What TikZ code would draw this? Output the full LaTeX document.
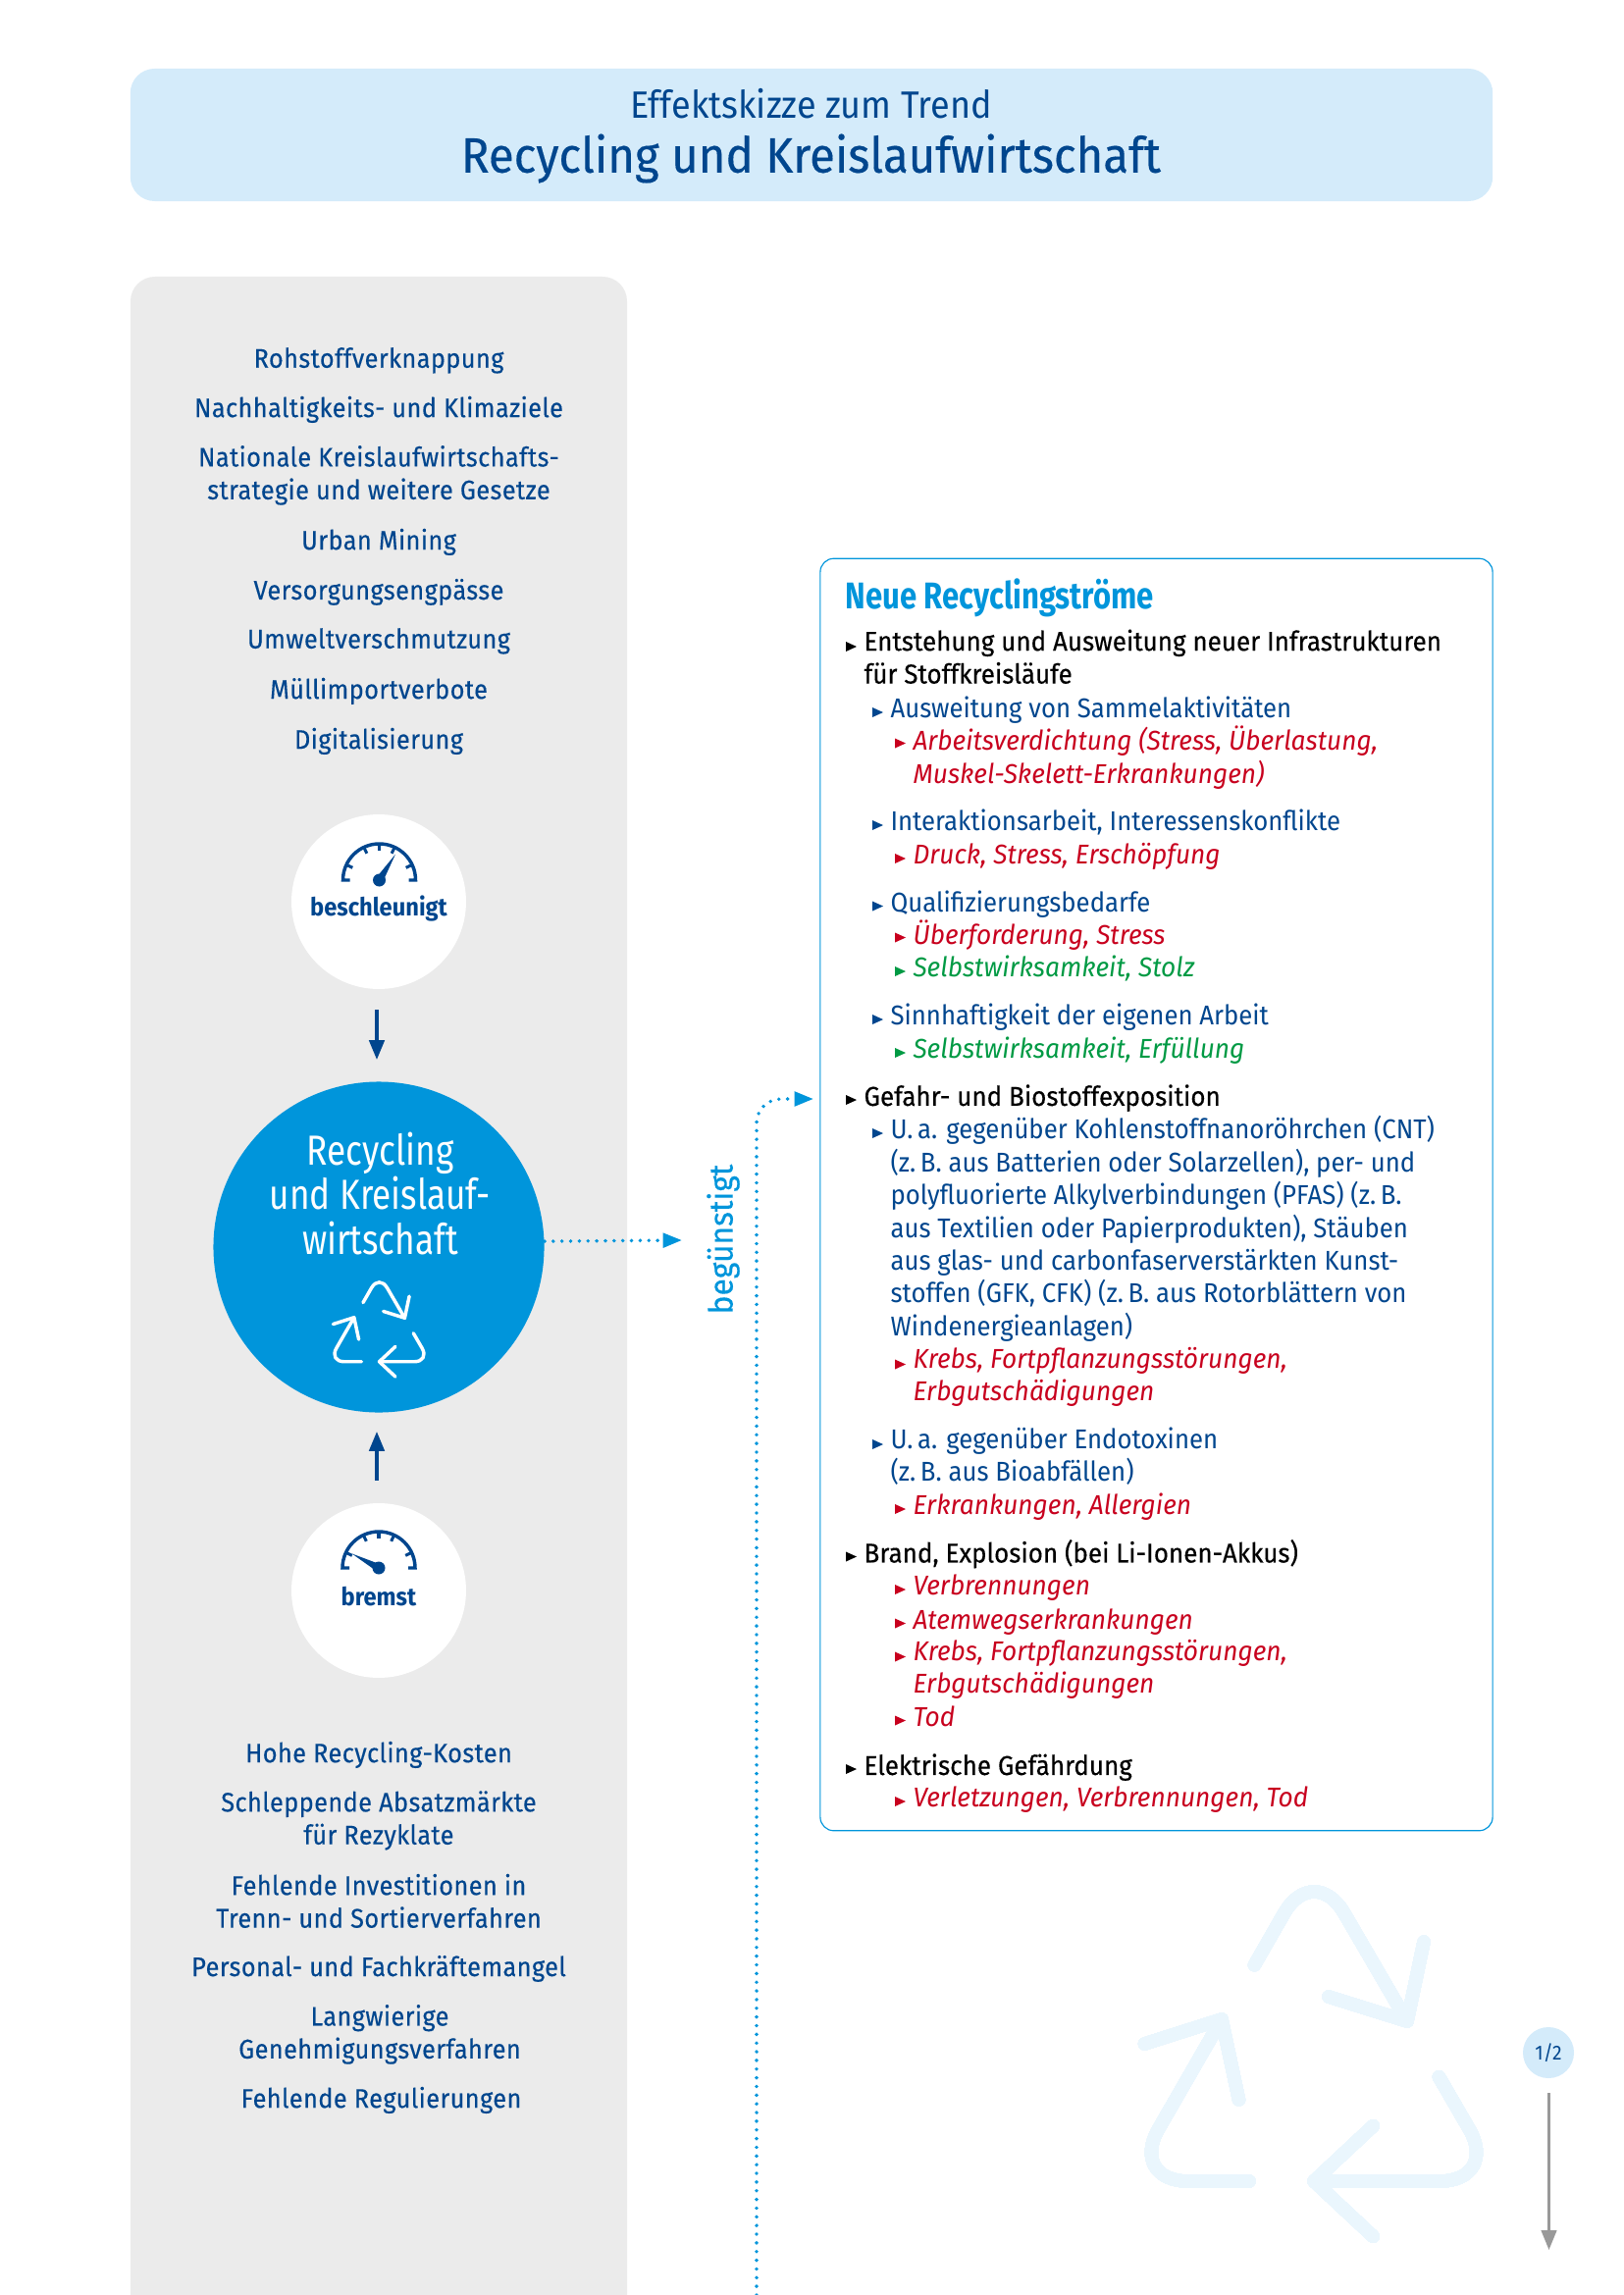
\documentclass[tikz,border=0pt]{standalone}
\usepackage{fontspec}
\setmainfont{Fira Sans}[FakeStretch=.93,ItalicFeatures={FakeStretch=.95}]
\newfontfamily\medfont{Fira Sans}[FakeStretch=.94,FakeBold=.3]
\newfontfamily\sidefont{Fira Sans}[FakeStretch=.925,FakeBold=.25,LetterSpace=1.5]
\newfontfamily\narrowfont{Fira Sans}[FakeStretch=.82]
\usetikzlibrary{arrows.meta,positioning,calc}
\definecolor{navy}{HTML}{00468E}
\definecolor{sky}{HTML}{0095DB}
\definecolor{pale}{HTML}{D4EBFA}
\definecolor{ghost}{HTML}{EAF6FD}
\definecolor{panel}{HTML}{EBEBEB}
\definecolor{harm}{HTML}{C8001E}
\definecolor{gain}{HTML}{009A44}
\definecolor{pager}{HTML}{999999}
\newcommand{\tickmark}[2]{\fill[#2] ([shift={(-18,13)}]#1.north west) -- ++(11,5) -- ++(-11,5) -- cycle;}
\tikzset{
  pics/gauge/.style={code={
    \draw[navy,line width=1.25pt] (-30,0) -- (-37,0) arc[start angle=-180,end angle=0,radius=37] -- (30,0);
    \foreach \a in {-25,-65,-90,-115,-155}
      \draw[navy,line width=1.1pt] (\a:37) -- (\a:30);
    \fill[navy] (0,0) circle[radius=6.5];
    \fill[navy,rotate=#1] (31,0) -- (0,4) -- (0,-4) -- cycle;}},
  pics/recyclesym/.style args={#1 and #2}{code={
    \begin{scope}[draw=#1,line width=#2,line cap=round,line join=round]
    \draw[rounded corners=#2*4.6] (-60.6,-111.3) -- (0,-217) -- (95,-54);
    \draw (112,-135) -- (95,-54) -- (15,-79);
    \draw[rounded corners=#2*4.6] (127.4,2.7) -- (189,109) -- (0,109);
    \draw (60.3,52.7) -- (0,109) -- (60.3,165.3);
    \draw[rounded corners=#2*4.6] (-66,109) -- (-189,109) -- (-94,-56);
    \draw (-172.6,-31) -- (-94,-56) -- (-76.5,26);
    \end{scope}}}
}
\begin{document}
\begin{tikzpicture}[x=.36135pt,y=-.36135pt,
  sidetxt/.style={text=navy,align=center,inner sep=0,yshift=-.5pt,font=\sidefont\fontsize{9.9}{12.07}\selectfont},
  itema/.style={anchor=north west,align=left,inner sep=0,text=black,yshift=-1.45pt,execute at begin node=\strut,
    font=\medfont\fontsize{10}{12.07}\selectfont},
  itemb/.style={anchor=north west,align=left,inner sep=0,text=navy,yshift=-1.45pt,execute at begin node=\strut,
    font=\fontsize{10}{12.07}\selectfont},
  itemc/.style={anchor=north west,align=left,inner sep=0,yshift=-1.45pt,execute at begin node=\strut,
    font=\itshape\fontsize{10}{12.07}\selectfont},
  rate/.style={circle,fill=white,inner sep=0,minimum size=64.3pt},
  ratetxt/.style={text=navy,inner sep=0,font=\bfseries\fontsize{9.2}{11}\selectfont},
  push/.style={-{Triangle[length=7.2pt,width=5.6pt]},navy,line width=1.15pt},
  dots/.style={-{Triangle[length=7pt,width=5.2pt]},sky,line width=1.4pt,line cap=round,dash pattern=on 0pt off 3.2pt}]
\useasboundingbox (0,0) rectangle (1654,2339);
\node[fill=pale,rounded corners=9pt,minimum width=501.7pt,minimum height=48.8pt] (head) at (827,137.5) {};
\node[text=navy,inner sep=0,font=\fontsize{14}{16}\selectfont] (headsup) at (826.5,105.5) {Effektskizze zum Trend};
\node[text=navy,inner sep=0,font=\medfont\fontsize{18.2}{20}\selectfont] (headttl) at (826.5,161.5) {Recycling und Kreislaufwirtschaft};
\fill[panel,rounded corners=9pt] (133,2420) -- (133,282) -- (639,282) -- (639,2420) -- cycle;
% drivers
\node[sidetxt] (d1) at (386,366) {Rohstoffverknappung};
\node[sidetxt] (d2) at (386,416) {Nachhaltigkeits- und Klimaziele};
\node[sidetxt] (d3) at (386,483) {Nationale Kreislaufwirtschafts-\\strategie und weitere Gesetze};
\node[sidetxt] (d4) at (386,551) {Urban Mining};
\node[sidetxt] (d5) at (386,602) {Versorgungsengpässe};
\node[sidetxt] (d6) at (386,652) {Umweltverschmutzung};
\node[sidetxt] (d7) at (386,703) {Müllimportverbote};
\node[sidetxt] (d8) at (386,754) {Digitalisierung};
\node[rate] (fast) at (386,919) {};
\pic at (386.5,897) {gauge=58};
\node[ratetxt] (fasttxt) at (386,926) {beschleunigt};
\node[circle,fill=sky,inner sep=0,minimum size=121.8pt] (core) at (386,1271) {};
\node[text=white,align=center,inner sep=0,font=\narrowfont\fontsize{15.5}{16.6}\selectfont] (coretxt) at (387.5,1216.5) {Recycling\\und Kreislauf-\\wirtschaft};
\pic[scale=.273] at (386.5,1358) {recyclesym=white and 1.25pt};
\node[rate] (slow) at (386,1621) {};
\pic at (386,1598) {gauge=152};
\node[ratetxt] (slowtxt) at (386,1627) {bremst};
\coordinate (fastend) at (384,1029);
\coordinate (coretop) at (384,1080);
\coordinate (slowend) at (384,1509);
\coordinate (corebot) at (384,1459);
\draw[push] (fastend) -- (coretop);
\draw[push] (slowend) -- (corebot);
% brakes
\node[sidetxt] (b1) at (386,1787) {Hohe Recycling-Kosten};
\node[sidetxt] (b2) at (386,1854) {Schleppende Absatzmärkte\\für Rezyklate};
\node[sidetxt] (b3) at (386,1936) {Fehlende Investitionen in\\Trenn- und Sortierverfahren};
\node[sidetxt] (b4) at (386,2005) {Personal- und Fachkräftemangel};
\node[sidetxt] (b5) at (387,2072) {Langwierige\\Genehmigungsverfahren};
\node[sidetxt] (b6) at (388.5,2139) {Fehlende Regulierungen};
% arrows to the box
\coordinate (gainend) at (695,1264);
\draw[dots] (core.2) -- (gainend);
\node[rotate=90,text=sky,inner sep=0,font=\medfont\fontsize{12.2}{15}\selectfont] (gaintxt) at (737,1263) {begünstigt};
\coordinate (railbot) at (771,2339);
\coordinate (railtop) at (771,1120);
\coordinate (boxin) at (829,1120);
\draw[dots,rounded corners=9pt] (railbot) -- (railtop) -- (boxin);
% list box
\node[draw=sky,line width=.42pt,rounded corners=5pt,fill=white,minimum width=247.6pt,minimum height=468.5pt] (risks) at (1178.5,1217.5) {};
\node[anchor=west,inner sep=0,text=sky,font=\narrowfont\bfseries\fontsize{13.7}{16}\selectfont] (riskshd) at (861,609) {Neue Recyclingströme};
\node[itema] (a1) at (880,637) {Entstehung und Ausweitung neuer Infrastrukturen\\für Stoffkreisläufe};
\node[itemb] (a2) at (907,704) {Ausweitung von Sammelaktivitäten};
\node[itemc,text=harm] (a3) at (930,735.5) {Arbeitsverdichtung (Stress, Überlastung,\\Muskel-Skelett-Erkrankungen)};
\node[itemb] (a4) at (907,819) {Interaktionsarbeit, Interessenskonflikte};
\node[itemc,text=harm] (a5) at (930,853) {Druck, Stress, Erschöpfung};
\node[itemb] (a6) at (907,901.5) {Qualifizierungsbedarfe};
\node[itemc,text=harm] (a7) at (930,933.5) {Überforderung, Stress};
\node[itemc,text=gain] (a8) at (930,968) {Selbstwirksamkeit, Stolz};
\node[itemb] (a9) at (907,1017) {Sinnhaftigkeit der eigenen Arbeit};
\node[itemc,text=gain] (a10) at (930,1051) {Selbstwirksamkeit, Erfüllung};
\node[itema] (c1) at (880,1099) {Gefahr- und Biostoffexposition};
\node[itemb] (c2) at (907,1133) {U.\,a. gegenüber Kohlenstoffnanoröhrchen (CNT)\\(z.\,B. aus Batterien oder Solarzellen), per- und\\polyfluorierte Alkylverbindungen (PFAS) (z.\,B.\\aus Textilien oder Papierprodukten), Stäuben\\aus glas- und carbonfaserverstärkten Kunst-\\stoffen (GFK, CFK) (z.\,B. aus Rotorblättern von\\Windenergieanlagen)};
\node[itemc,text=harm] (c3) at (930,1368.5) {Krebs, Fortpflanzungsstörungen,\\Erbgutschädigungen};
\node[itemb] (c4) at (907,1450) {U.\,a. gegenüber Endotoxinen\\(z.\,B. aus Bioabfällen)};
\node[itemc,text=harm] (c5) at (930,1516) {Erkrankungen, Allergien};
\node[itema] (e1) at (880,1564.5) {Brand, Explosion (bei Li-Ionen-Akkus)};
\node[itemc,text=harm] (e2) at (930,1598) {Verbrennungen};
\node[itemc,text=harm] (e3) at (930,1632.5) {Atemwegserkrankungen};
\node[itemc,text=harm] (e4) at (930,1666.5) {Krebs, Fortpflanzungsstörungen,\\Erbgutschädigungen};
\node[itemc,text=harm] (e5) at (930,1731.5) {Tod};
\node[itema] (f1) at (880,1781) {Elektrische Gefährdung};
\node[itemc,text=harm] (f2) at (930,1814) {Verletzungen, Verbrennungen, Tod};
\foreach \nm/\col in {a1/black,a2/navy,a3/harm,a4/navy,a5/harm,a6/navy,a7/harm,a8/gain,a9/navy,a10/gain,
  c1/black,c2/navy,c3/harm,c4/navy,c5/harm,e1/black,e2/harm,e3/harm,e4/harm,e5/harm,f1/black,f2/harm}
  \tickmark{\nm}{\col}
% watermark and page mark
\pic at (1339,2114) {recyclesym=ghost and 4.8pt};
\node[circle,fill=pale,inner sep=0,minimum size=18.8pt,text=navy,font=\fontsize{7.5}{9}\selectfont] (page) at (1578,2092) {1/2};
\coordinate (pagetop) at (1578.5,2133);
\coordinate (pagebot) at (1578.5,2293);
\draw[-{Triangle[length=7.2pt,width=5.6pt]},pager,line width=.95pt] (pagetop) -- (pagebot);
\end{tikzpicture}
\end{document}
